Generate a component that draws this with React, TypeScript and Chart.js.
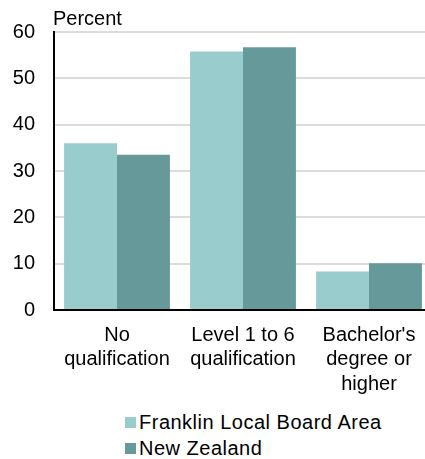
import React, { useEffect, useRef } from "react";
import { Chart, registerables } from "chart.js";

Chart.register(...registerables);

const categories: string[][] = [
  ["No", "qualification"],
  ["Level 1 to 6", "qualification"],
  ["Bachelor's", "degree or", "higher"],
];
const seriesNames = ["Franklin Local Board Area", "New Zealand"];
const franklinValues = [36.0, 55.8, 8.3];
const newZealandValues = [33.5, 56.7, 10.1];
const seriesColors = ["#99CCCC", "#669999"];
const yTicks = { min: 0, max: 60, step: 10 };
const yAxisTitle = "Percent";

const FONT_FAMILY = "'Liberation Sans', Arial, sans-serif";

const percentTitlePlugin = {
  id: "percentTitle",
  afterDraw(chart: any) {
    const { ctx, chartArea } = chart;
    ctx.save();
    ctx.font = `20px ${FONT_FAMILY}`;
    ctx.fillStyle = "#000";
    ctx.textAlign = "left";
    ctx.textBaseline = "alphabetic";
    ctx.fillText(yAxisTitle, chartArea.left - 1, 25);
    ctx.restore();
  },
};

export default function App() {
  const canvasRef = useRef<HTMLCanvasElement | null>(null);

  useEffect(() => {
    if (!canvasRef.current) return;
    const chart = new Chart(canvasRef.current, {
      type: "bar",
      data: {
        labels: categories,
        datasets: [
          {
            label: seriesNames[0],
            data: franklinValues,
            backgroundColor: seriesColors[0],
            borderWidth: 0,
          },
          {
            label: seriesNames[1],
            data: newZealandValues,
            backgroundColor: seriesColors[1],
            borderWidth: 0,
          },
        ],
      },
      options: {
        animation: false,
        responsive: true,
        maintainAspectRatio: false,
        layout: { padding: { top: 32, left: 0, right: 0, bottom: 0 } },
        plugins: {
          legend: { display: false },
          tooltip: { enabled: false },
          title: { display: false },
        },
        datasets: {
          bar: { categoryPercentage: 0.84, barPercentage: 1.0 },
        },
        scales: {
          x: {
            grid: { display: false, drawTicks: false },
            border: { display: true, color: "#000", width: 2 },
            ticks: {
              color: "#000",
              font: { family: FONT_FAMILY, size: 20, lineHeight: 1.22 },
              padding: 13,
              maxRotation: 0,
              autoSkip: false,
            },
            afterFit(scale: any) {
              scale.height = 90;
            },
          },
          y: {
            min: yTicks.min,
            max: yTicks.max,
            grid: { color: "#dcdcdc", lineWidth: 2, drawTicks: false },
            border: { display: true, color: "#000", width: 2 },
            ticks: {
              stepSize: yTicks.step,
              color: "#000",
              font: { family: FONT_FAMILY, size: 20 },
              padding: 19,
            },
            afterFit(scale: any) {
              scale.width = 54;
            },
          },
        },
      },
      plugins: [percentTitlePlugin],
    });
    return () => chart.destroy();
  }, []);

  return (
    <div
      style={{
        position: "fixed",
        left: 0,
        top: 0,
        width: 425,
        height: 459,
        overflow: "hidden",
        background: "#fff",
      }}
    >
      <div style={{ position: "absolute", left: 0, top: 0, width: 432, height: 400 }}>
        <canvas ref={canvasRef} />
      </div>
      <div
        style={{
          position: "absolute",
          left: 125,
          top: 409,
          fontFamily: FONT_FAMILY,
          fontSize: 20,
          color: "#000",
        }}
      >
        {seriesNames.map((name, i) => (
          <div
            key={name}
            style={{ display: "flex", alignItems: "center", height: 26, whiteSpace: "nowrap" }}
          >
            <span
              style={{
                display: "inline-block",
                width: 11,
                height: 11,
                background: seriesColors[i],
                marginRight: 3,
              }}
            />
            <span style={{ letterSpacing: 0.5 }}>{name}</span>
          </div>
        ))}
      </div>
    </div>
  );
}
